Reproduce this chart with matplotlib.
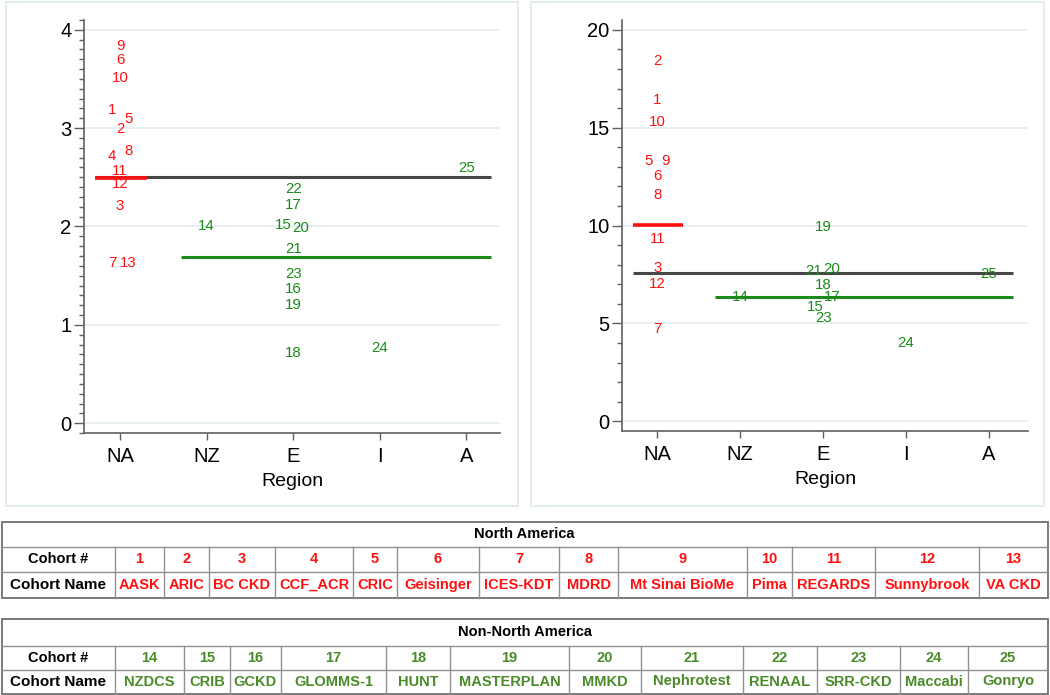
import numpy as np
import matplotlib
matplotlib.use("Agg")
import matplotlib.pyplot as plt
from matplotlib.ticker import MultipleLocator
from matplotlib.patches import Rectangle

plt.rcParams["font.family"] = ["Liberation Sans", "DejaVu Sans"]

# =========================
# data
# =========================
regions = ["NA", "NZ", "E", "I", "A"]

cohort_ids = list(range(1, 26))
cohort_region = [1] * 13 + [2] + [3] * 9 + [4, 5]

left_vals = [3.18, 2.99, 2.21, 2.72, 3.09, 3.69, 1.63, 2.77, 3.84, 3.51, 2.56, 2.43, 1.63,
             2.00, 2.02, 1.36, 2.22, 0.71, 1.20, 1.98, 1.77, 2.38, 1.52, 0.76, 2.59]
right_vals = [16.42, 18.41, 7.83, None, 13.30, 12.53, 4.71, 11.56, 13.30, 15.31, 9.33, 7.02, None,
              6.34, 5.83, None, 6.34, 6.97, 9.91, 7.79, 7.65, None, 5.27, 4.02, 7.53]

# label jitter (x units) so that overlapping numbers stay readable
left_dx = {1: -0.09, 4: -0.1, 5: 0.1, 8: 0.1, 7: -0.09, 13: 0.1, 15: -0.11, 20: 0.09}
right_dx = {5: -0.1, 9: 0.1, 21: -0.11, 20: 0.1, 17: 0.11, 15: -0.09}

left_mean_all, left_mean_na, left_mean_non = 2.50, 2.49, 1.69
right_mean_all, right_mean_na, right_mean_non = 7.57, 10.05, 6.34

na_names = ["AASK", "ARIC", "BC CKD", "CCF_ACR", "CRIC", "Geisinger", "ICES-KDT",
            "MDRD", "Mt Sinai BioMe", "Pima", "REGARDS", "Sunnybrook", "VA CKD"]
non_names = ["NZDCS", "CRIB", "GCKD", "GLOMMS-1", "HUNT", "MASTERPLAN", "MMKD",
             "Nephrotest", "RENAAL", "SRR-CKD", "Maccabi", "Gonryo"]

# =========================
# style
# =========================
W, H = 1050, 695
RED = "#ff1010"
GREEN = "#1b8a1b"
TGREEN = "#4a8a28"
GRAY = "#474747"
BORDER = "#e4ecef"
GRID = "#e6eef0"


def fx(x):
    return x / W


def fy(y):
    return 1 - y / H


def make_axes(fig, x0, x1, y0, y1):
    return fig.add_axes([fx(x0), fy(y1), fx(x1) - fx(x0), fy(y0) - fy(y1)])


fig = plt.figure(figsize=(W / 100, H / 100), dpi=100)

bg = fig.add_axes([0, 0, 1, 1])
bg.set_xlim(0, W)
bg.set_ylim(H, 0)
bg.axis("off")
bg.patch.set_visible(False)

# panel frames
for x0, x1 in [(6, 518), (531, 1044)]:
    bg.add_patch(Rectangle((x0, 2), x1 - x0, 504, fill=False,
                           edgecolor=BORDER, linewidth=1.5))


def draw_panel(ax, xl, vals, dx, m_all, m_na, m_non, ylim, major, minor):
    ax.set_xlim(*xl)
    ax.set_ylim(*ylim)
    for s in ["top", "right"]:
        ax.spines[s].set_visible(False)
    for s in ["left", "bottom"]:
        ax.spines[s].set_color("#606060")
        ax.spines[s].set_linewidth(1.2)
    ax.yaxis.set_major_locator(MultipleLocator(major))
    ax.yaxis.set_minor_locator(MultipleLocator(minor))
    ax.set_xticks(range(1, 6))
    ax.set_xticklabels(regions)
    ax.tick_params(axis="y", which="major", length=7, width=1, color="#606060",
                   labelsize=14.5, pad=2)
    ax.tick_params(axis="y", which="minor", length=3.5, width=1, color="#606060")
    ax.tick_params(axis="x", length=5, width=1, color="#606060", labelsize=14.5, pad=5)
    ax.grid(axis="y", color=GRID, linewidth=1.3)
    ax.set_axisbelow(True)
    ax.set_xlabel("Region", fontsize=14, labelpad=5)

    ax.hlines(m_all, 0.71, 5.29, color=GRAY, linewidth=2.2, zorder=2)
    ax.hlines(m_non, 1.7, 5.29, color=GREEN, linewidth=2.2, zorder=2)
    ax.hlines(m_na, 0.71, 1.31, color=RED, linewidth=2.6, zorder=3)

    for cid, reg, v in zip(cohort_ids, cohort_region, vals):
        if v is None:
            continue
        col = RED if reg == 1 else GREEN
        ax.text(reg + dx.get(cid, 0), v, str(cid), color=col, fontsize=10.8,
                ha="center", va="center", zorder=4)


axL = make_axes(fig, 84, 500, 20, 433)
draw_panel(axL, (0.584, 5.39), left_vals, left_dx,
           left_mean_all, left_mean_na, left_mean_non, (-0.1, 4.1), 1, 0.1)

axR = make_axes(fig, 622, 1028, 20, 431)
draw_panel(axR, (0.575, 5.47), right_vals, right_dx,
           right_mean_all, right_mean_na, right_mean_non, (-0.5, 20.5), 5, 1)

# =========================
# cohort tables
# =========================
na_cols = [1.5, 115, 164, 209, 275, 353, 397, 479, 559, 618, 747, 792, 875, 979, 1048]
na_rows = [521.5, 546.5, 572, 597.5]
non_cols = [1.5, 115, 184, 230, 281, 386, 450, 569, 641, 743, 817, 900, 968, 1048]
non_rows = [618.5, 645.5, 669.5, 693.5]


def draw_table(cols, rows, title, ids, names, color):
    x0, x1 = cols[0], cols[-1]
    bg.add_patch(Rectangle((x0, rows[0]), x1 - x0, rows[-1] - rows[0], fill=False,
                           edgecolor="#707070", linewidth=1.3))
    for y in rows[1:-1]:
        bg.plot([x0, x1], [y, y], color="#909090", linewidth=1)
    for x in cols[1:-1]:
        bg.plot([x, x], [rows[1], rows[-1]], color="#909090", linewidth=1)
    bg.text((x0 + x1) / 2, (rows[0] + rows[1]) / 2, title, ha="center", va="center",
            fontsize=10.5, fontweight="bold", color="black")
    ym1 = (rows[1] + rows[2]) / 2
    ym2 = (rows[2] + rows[3]) / 2
    xc0 = (cols[0] + cols[1]) / 2
    bg.text(xc0, ym1, "Cohort #", ha="center", va="center", fontsize=10.5,
            fontweight="bold", color="black")
    bg.text(xc0, ym2, "Cohort Name", ha="center", va="center", fontsize=11,
            fontweight="bold", color="black")
    for i, (cid, nm) in enumerate(zip(ids, names)):
        xc = (cols[i + 1] + cols[i + 2]) / 2
        bg.text(xc, ym1, str(cid), ha="center", va="center", fontsize=10.5,
                fontweight="bold", color=color)
        bg.text(xc, ym2, nm, ha="center", va="center", fontsize=10.5,
                fontweight="bold", color=color)


draw_table(na_cols, na_rows, "North America", cohort_ids[:13], na_names, RED)
draw_table(non_cols, non_rows, "Non-North America", cohort_ids[13:], non_names, TGREEN)

fig.savefig("out.png", dpi=100)
